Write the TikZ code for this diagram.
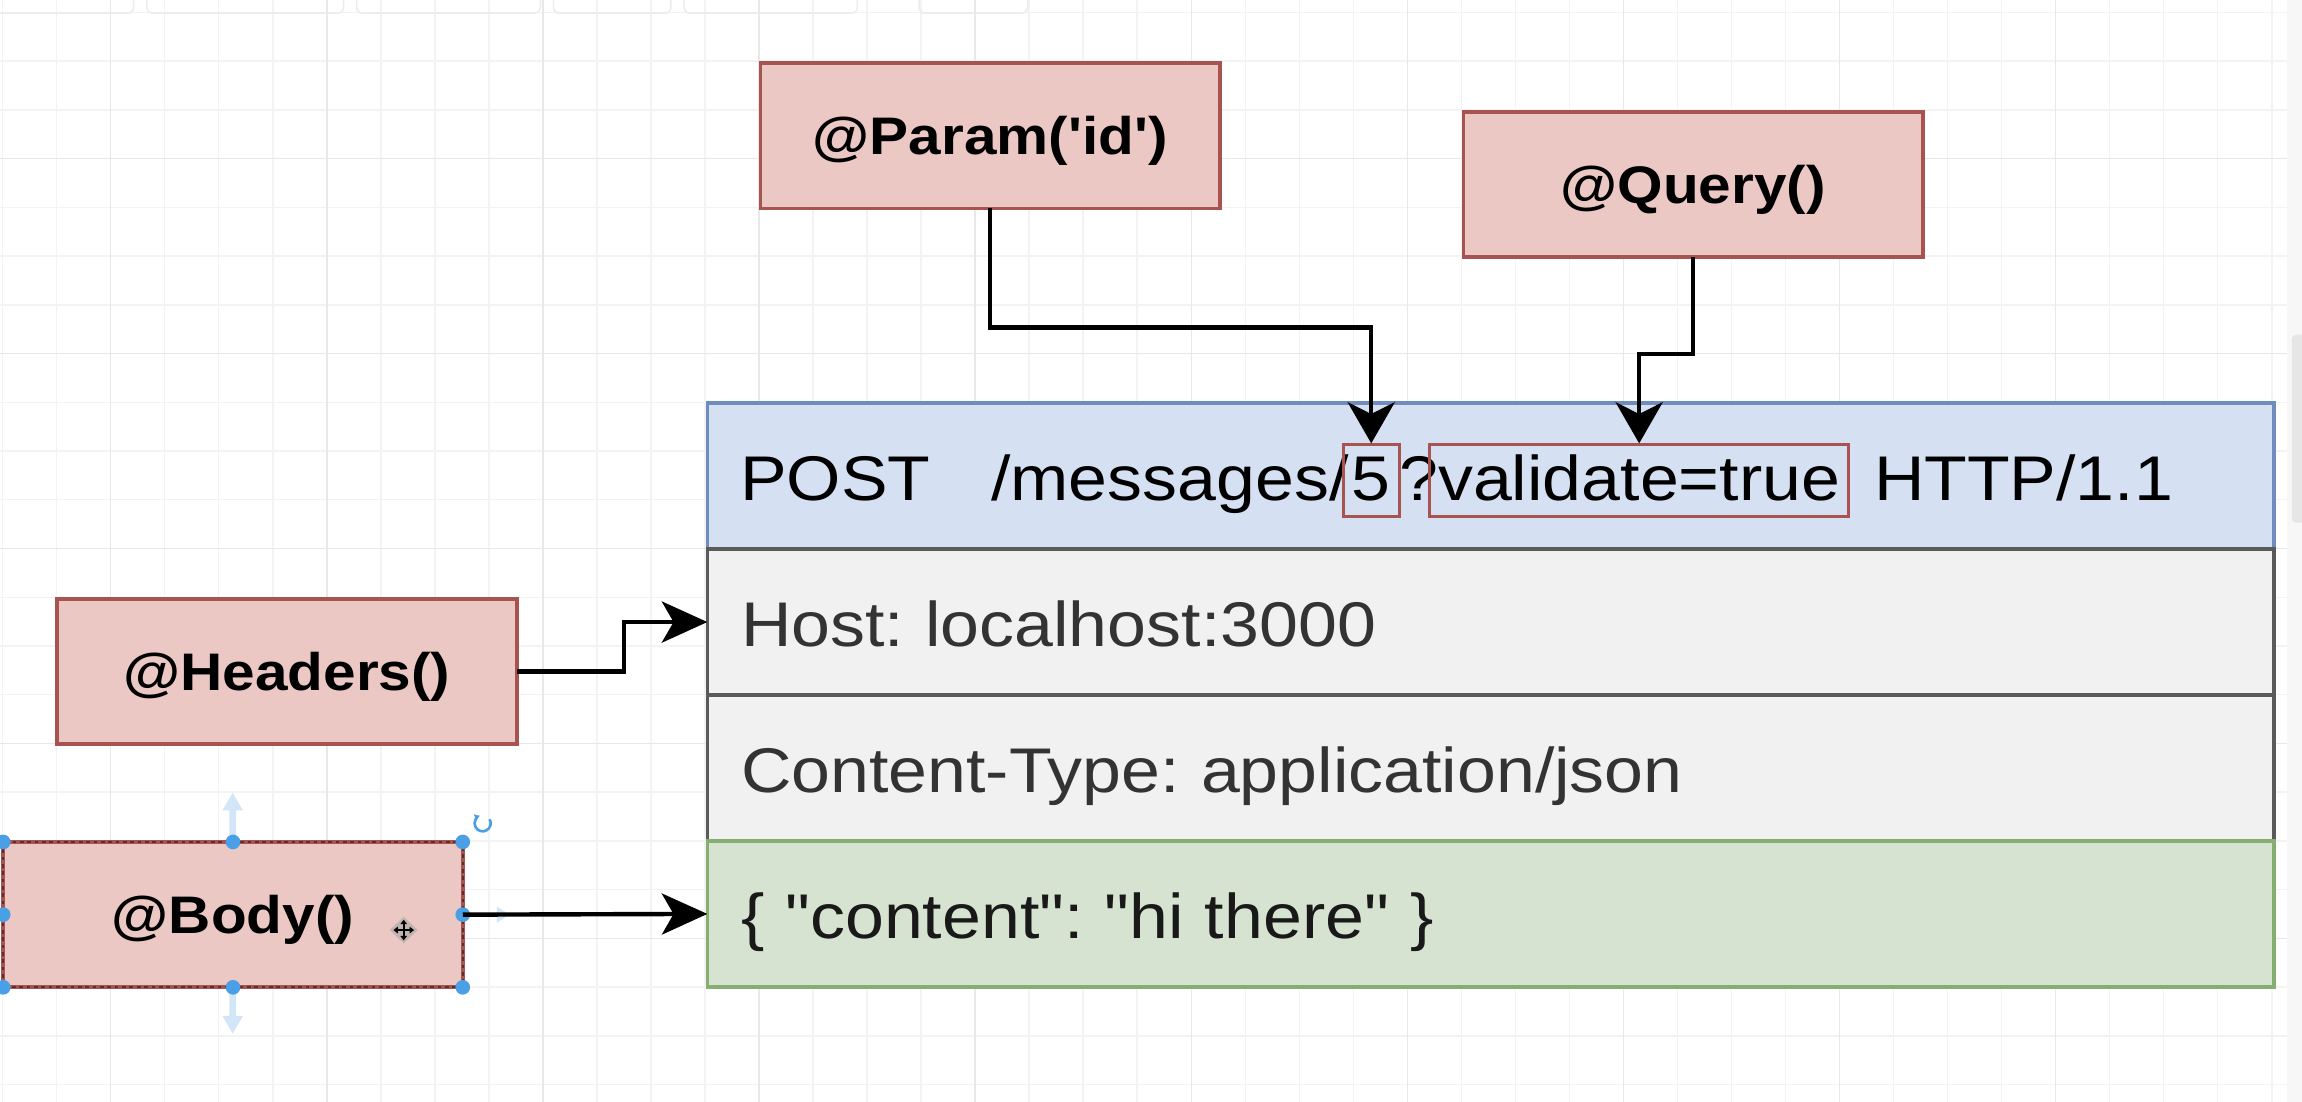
\documentclass[tikz,border=0pt]{standalone}
\usepackage{fontspec}
\newfontfamily\drawfont{Liberation Sans}[FakeStretch=1.107]
\usetikzlibrary{arrows.meta, positioning}
\frenchspacing

\definecolor{decofill}{HTML}{EBC8C4}
\definecolor{decoline}{HTML}{A75450}
\definecolor{reqfill}{HTML}{D5E1F3}
\definecolor{reqline}{HTML}{6E8CBE}
\definecolor{hdrfill}{HTML}{F1F1F1}
\definecolor{hdrline}{HTML}{5A5A5A}
\definecolor{bodyfill}{HTML}{D6E3D1}
\definecolor{bodyline}{HTML}{85AE70}
\definecolor{rowtext}{HTML}{333333}
\definecolor{gridminor}{HTML}{F3F3F3}
\definecolor{gridmajor}{HTML}{E8E8E8}
\definecolor{toolline}{HTML}{ECECEC}
\definecolor{stripgray}{HTML}{F7F7F7}
\definecolor{thumbgray}{HTML}{E6E6E6}
\definecolor{handle}{HTML}{4AA0E6}
\definecolor{hint}{HTML}{D2E6F7}

\tikzset{
	deco/.style={draw=decoline, fill=decofill, line width=2.5pt, outer sep=0pt, inner sep=0pt,
		minimum width=313pt, minimum height=99pt,
		font=\drawfont\bfseries\fontsize{36}{43}\selectfont, text height=25.8pt, text depth=0pt},
	row/.style={line width=2.5pt, outer sep=0pt, inner xsep=23pt, inner ysep=0pt,
		minimum width=1067pt, minimum height=99.4pt, text width=1021pt, align=left,
		font=\drawfont\fontsize{43}{50}\selectfont, text height=33.8pt, text depth=0pt, text=rowtext},
	part/.style={inner sep=0pt, anchor=base west, font=\drawfont\fontsize{43}{50}\selectfont},
	hilite/.style={part, anchor=base, draw=decoline, line width=2pt, text height=38.2pt, text depth=10.8pt},
	wire/.style={line width=3pt},
	tipdown/.style={-{Stealth[length=28pt, width=32pt, inset=8pt]}},
	tipright/.style={-{Stealth[length=31pt, width=28pt, inset=8pt]}},
}

\begin{document}
\begin{tikzpicture}[x=1pt, y=-1pt]
	\useasboundingbox (0,0) rectangle (1568,750.6);
	\fill[white] (0,0) rectangle (1568,750.6);

	% grid of the editor
	\foreach \gx in {0,...,42} \draw[gridminor, line width=1pt] ({1.8+36.8*\gx},0) -- ++(0,751);
	\foreach \gy in {0,...,22} \draw[gridminor, line width=1pt] (0,{8.4+33.2*\gy}) -- ++(1558,0);
	\foreach \gx in {0,...,9} \draw[gridmajor, line width=1pt] ({75.4+147.2*\gx},0) -- ++(0,751);
	\foreach \gy in {0,...,4} \draw[gridmajor, line width=1pt] (0,{108+132.8*\gy}) -- ++(1558,0);
	\foreach \ta/\tb in {-4/91, 100/234, 243/368, 377/457, 466/584, 626/700}
		\draw[toolline, line width=1pt, rounded corners=4pt] (\ta,-10) rectangle (\tb,9);
	\fill[stripgray] (1558,0) rectangle (1568,751);
	\fill[thumbgray, rounded corners=3pt] (1561,228) rectangle (1572,356);

	% the request
	\node[row, fill=reqfill, draw=reqline] (request) at (1015.3,324.3) {};
	\node[part] (verb) at (504,341.2) {POST};
	\node[part] (route) at (675,341.2) {/messages/};
	\node[hilite, minimum width=38pt] (idval) at (934,341.2) {5};
	\node[part] (qmark) at (953,341.2) {?};
	\node[hilite, minimum width=285pt] (valq) at (1116.5,341.2) {validate=true};
	\node[part] (proto) at (1276.3,341.2) {HTTP/1.1};
	\node[row, fill=hdrfill, draw=hdrline, below=0pt of request] (host) {Host: localhost:3000};
	\node[row, fill=hdrfill, draw=hdrline, below=0pt of host] (ctype) {Content-Type: application/json};
	\node[row, fill=bodyfill, draw=bodyline, below=0pt of ctype, text=black!90] (content) {\{ "content": "hi there" \}};

	% decorators
	\node[deco] (param) at (674.5,92.5) {@Param('id')};
	\node[deco] (query) at (1153.3,125.7) {@Query()};
	\node[deco] (headers) at (195.5,457.3) {@Headers()};
	\node[deco] (body) at (158.7,623) {@Body()};

	% selection of the body box
	\draw[dash pattern=on 2.5pt off 2.5pt, line width=1.3pt, draw=decoline!55!black] (body.north west) rectangle (body.south east);
	\fill[hint] (156.2,569) -- (156.2,552) -- (151.5,552) -- (158.5,540) -- (165.5,552) -- (160.8,552) -- (160.8,569) -- cycle;
	\fill[hint] (156.2,677) -- (156.2,692) -- (151.5,692) -- (158.5,704) -- (165.5,692) -- (160.8,692) -- (160.8,677) -- cycle;
	\fill[hint] (338.5,617.5) -- (347,623) -- (338.5,628.5) -- cycle;
	\foreach \hp in {north west, north, north east, west, east, south west, south, south east}
		\fill[handle] (body.\hp) circle (5);
	\draw[handle, line width=1.8pt, -{Latex[length=3.5pt, width=5pt]}] (333.5,558) arc[start angle=-30, end angle=250, radius=5.5];
	\fill[black!35, opacity=.6] (275,624.5) -- (284.5,633.5) -- (275,642.5) -- (265.5,633.5) -- cycle;
	\draw[line width=1.5pt, {Triangle[length=3pt, width=4.5pt]}-{Triangle[length=3pt, width=4.5pt]}] (268,633.5) -- (282,633.5);
	\draw[line width=1.5pt, {Triangle[length=3pt, width=4.5pt]}-{Triangle[length=3pt, width=4.5pt]}] (275,626.5) -- (275,640.5);

	% connectors
	\draw[wire, tipdown] (param.south) -- ++(0,81) -| (idval.north);
	\draw[wire, tipdown] (query.south) -- ++(0,66) -| (valq.north);
	\draw[wire, tipright] (headers.east) -- ++(73,0) |- (host.west);
	\draw[wire, tipright] (body.east) -- (content.west);
\end{tikzpicture}
\end{document}
